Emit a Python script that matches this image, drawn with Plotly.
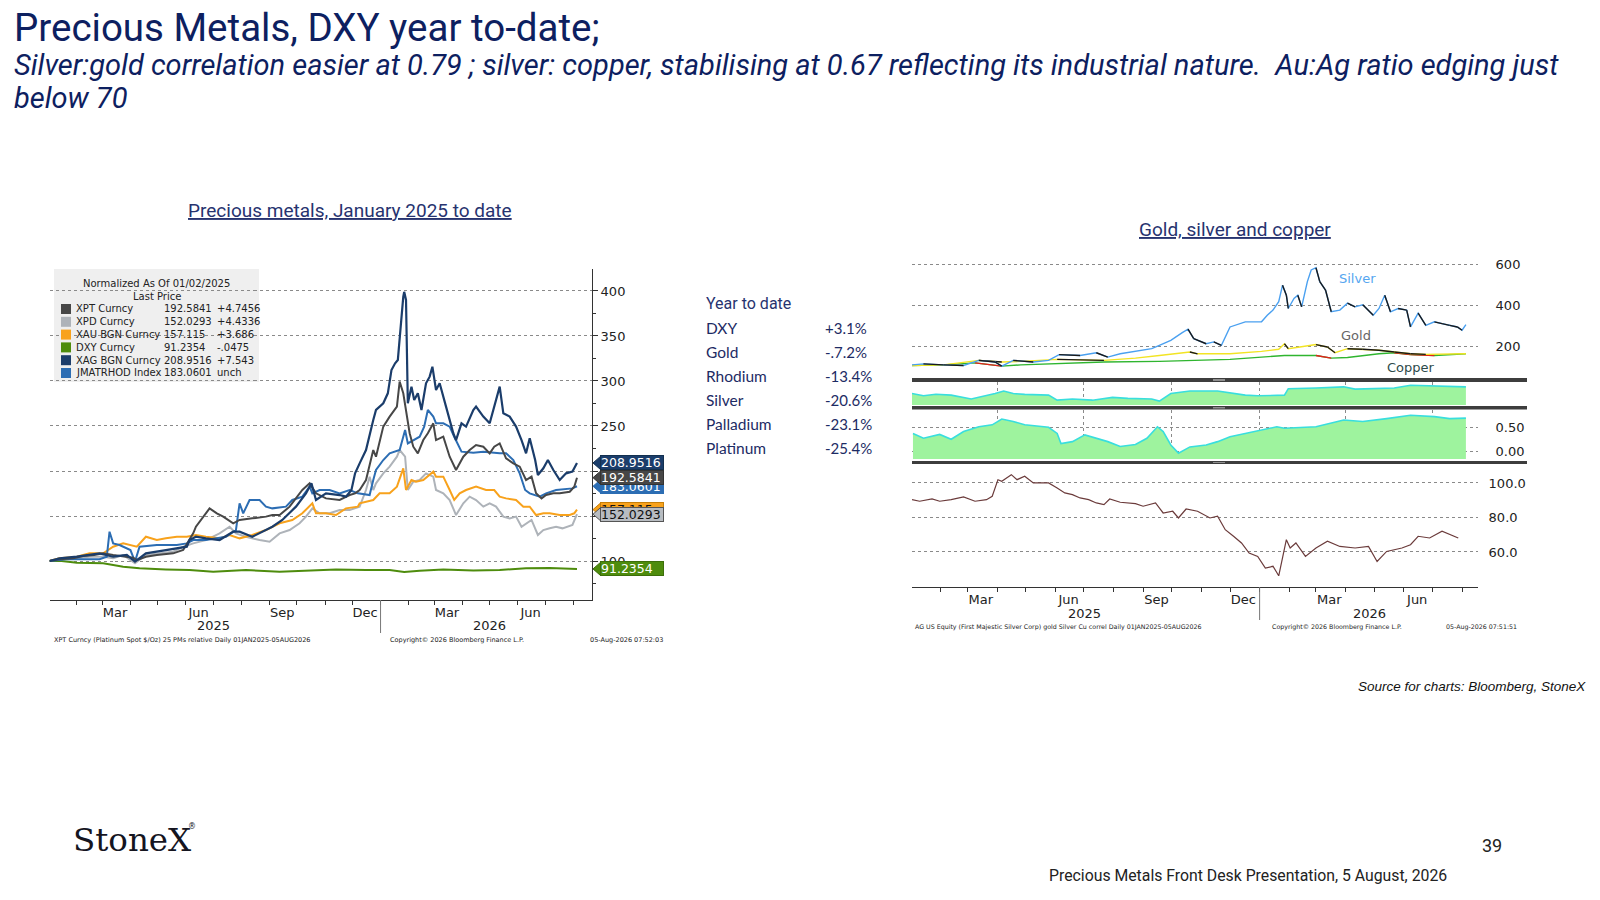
import plotly.graph_objects as go

W, H = 1600, 900

# ------------------------------------------------------------------ data: left chart (normalised, 02-Jan-2025 = 100)
XPT = [("2025-01-02",100),("2025-01-13",101.9),("2025-01-28",103),("2025-02-08",105.6),("2025-02-20",106.7),
       ("2025-03-02",108.5),("2025-03-13",106.7),("2025-03-24",105.6),("2025-04-04",103.7),("2025-04-08",101.1),
       ("2025-04-18",104.8),("2025-04-30",106.7),("2025-05-18",108.5),("2025-05-29",112.2),("2025-06-05",123.3),
       ("2025-06-09",130.7),("2025-06-12",138.1),("2025-06-23",153),("2025-06-27",158.5),("2025-07-05",153),
       ("2025-07-12",149.3),("2025-07-23",141.9),("2025-07-30",145.6),("2025-08-13",147.4),("2025-08-28",149.3),
       ("2025-09-04",151.1),("2025-09-12",151.1),("2025-09-23",160.4),("2025-10-07",178.9),("2025-10-15",186.3),
       ("2025-10-22",175.2),("2025-11-02",169.6),("2025-11-17",167.8),("2025-11-28",173.3),("2025-12-04",175.2),
       ("2025-12-09",178.9),("2025-12-16",190),("2025-12-24",223.3),("2025-12-27",215.9),("2026-01-04",249.3),
       ("2026-01-11",260.4),("2026-01-19",271.5),("2026-01-22",299.3),("2026-01-26",286.3),("2026-01-29",267.8),
       ("2026-02-02",241.9),("2026-02-06",227),("2026-02-11",219.6),("2026-02-17",234.4),("2026-02-22",241.9),
       ("2026-02-28",253),("2026-03-03",234.4),("2026-03-11",238.1),("2026-03-18",215.9),("2026-03-25",201.1),
       ("2026-04-02",215.9),("2026-04-09",223.3),("2026-04-16",228.9),("2026-04-24",227),("2026-05-01",219.6),
       ("2026-05-06",227),("2026-05-12",230.7),("2026-05-19",214.1),("2026-05-27",208.5),("2026-06-03",204.8),
       ("2026-06-10",190),("2026-06-16",193.7),("2026-06-21",175.2),("2026-06-27",169.6),("2026-07-02",173.3),
       ("2026-07-10",175.2),("2026-07-17",175.2),("2026-07-28",177),("2026-08-02",182.6),("2026-08-05",192.5841)]

XAG = [("2025-01-02",100),("2025-01-13",103),("2025-02-01",104.8),("2025-02-26",108.5),("2025-03-13",104.8),
       ("2025-03-28",106.7),("2025-04-06",99.3),("2025-04-18",108.5),("2025-05-10",112.2),("2025-06-02",115.9),
       ("2025-06-05",123.3),("2025-06-12",127),("2025-06-23",125.2),("2025-07-08",123.3),("2025-07-23",132.6),
       ("2025-07-30",132.6),("2025-08-13",127),("2025-08-28",134.4),("2025-09-04",138.1),("2025-09-15",145.6),
       ("2025-09-30",160.4),("2025-10-11",175.2),("2025-10-17",186.3),("2025-10-22",167.8),("2025-11-02",175.2),
       ("2025-11-17",173.3),("2025-11-24",171.5),("2025-11-30",178.9),("2025-12-04",197.4),("2025-12-09",208.5),
       ("2025-12-16",223.3),("2025-12-24",256.7),("2025-12-27",267.8),("2026-01-04",275.2),("2026-01-09",286.3),
       ("2026-01-13",312.2),("2026-01-17",319.6),("2026-01-20",323.3),("2026-01-22",349.3),("2026-01-26",393.7),
       ("2026-01-27",399),("2026-01-29",390),("2026-01-31",275.2),("2026-02-04",293.7),("2026-02-07",278.9),
       ("2026-02-11",286.3),("2026-02-15",267.8),("2026-02-20",297.4),("2026-02-24",304.8),("2026-02-27",315.9),
       ("2026-03-03",290),("2026-03-07",297.4),("2026-03-14",271.5),("2026-03-22",241.9),("2026-03-25",234.4),
       ("2026-03-31",253),("2026-04-05",249.3),("2026-04-13",267.8),("2026-04-16",271.5),("2026-04-24",260.4),
       ("2026-05-01",253),("2026-05-06",271.5),("2026-05-12",293.7),("2026-05-16",264.1),("2026-05-23",260.4),
       ("2026-05-30",249.3),("2026-06-05",234.4),("2026-06-10",219.6),("2026-06-14",236.3),("2026-06-20",212.2),
       ("2026-06-23",195.6),("2026-06-29",203),("2026-07-04",212.2),("2026-07-10",201.1),("2026-07-17",190),
       ("2026-07-24",197.4),("2026-07-31",199.3),("2026-08-05",208.9516)]

RHOD = [("2025-01-02",100),("2025-01-20",101.9),("2025-02-26",101.9),("2025-03-06",104.8),("2025-03-09",132.6),
        ("2025-03-13",119.6),("2025-03-20",117.8),("2025-04-01",112.2),("2025-04-06",99.3),("2025-04-11",115.9),
        ("2025-04-30",117.8),("2025-05-22",117.8),("2025-06-02",119.6),("2025-06-09",123.3),("2025-06-23",123.3),
        ("2025-07-15",127),("2025-07-26",134.4),("2025-07-30",164.1),("2025-08-03",153),("2025-08-10",167.8),
        ("2025-08-21",167.8),("2025-08-28",160.4),("2025-09-04",158.5),("2025-09-19",160.4),("2025-09-26",167.8),
        ("2025-10-07",171.5),("2025-10-15",182.6),("2025-10-18",175.2),("2025-10-26",178.9),("2025-11-06",178.9),
        ("2025-11-17",175.2),("2025-11-28",178.9),("2025-12-07",175.2),("2025-12-20",173.3),("2025-12-24",190),
        ("2025-12-27",201.1),("2026-01-04",212.2),("2026-01-11",219.6),("2026-01-22",223.3),("2026-01-28",245.6),
        ("2026-01-31",230.7),("2026-02-06",234.4),("2026-02-13",238.1),("2026-02-18",249.3),("2026-02-22",267.8),
        ("2026-02-28",260.4),("2026-03-03",253),("2026-03-11",253),("2026-03-18",249.3),("2026-03-23",238.1),
        ("2026-03-31",221.5),("2026-04-13",220.4),("2026-04-24",221.5),("2026-05-12",219.6),("2026-05-19",219.6),
        ("2026-05-27",212.2),("2026-06-03",197.4),("2026-06-09",178.9),("2026-06-14",175.2),("2026-06-25",171.5),
        ("2026-07-02",175.2),("2026-07-13",178.9),("2026-07-24",179.6),("2026-07-31",180.7),("2026-08-05",183.0601)]

XAU = [("2025-01-02",100),("2025-01-13",103),("2025-02-01",104.8),("2025-02-15",108.5),("2025-03-02",108.5),
       ("2025-03-13",115.9),("2025-03-24",119.6),("2025-04-08",115.9),("2025-04-18",127),("2025-04-30",123.3),
       ("2025-05-10",125.2),("2025-05-22",127),("2025-06-02",127),("2025-06-12",128.9),("2025-06-23",127),
       ("2025-07-08",125.2),("2025-07-19",128.9),("2025-07-30",125.2),("2025-08-13",128.9),("2025-08-28",134.4),
       ("2025-09-12",141.9),("2025-09-26",145.6),("2025-10-07",153),("2025-10-18",164.1),("2025-10-22",153),
       ("2025-11-02",153),("2025-11-13",151.1),("2025-11-24",158.5),("2025-12-07",160.4),("2025-12-09",164.1),
       ("2025-12-24",167.8),("2025-12-31",175.2),("2026-01-11",175.2),("2026-01-19",182.6),("2026-01-26",203),
       ("2026-01-29",178.9),("2026-02-04",190),("2026-02-09",188.1),("2026-02-17",190),("2026-02-24",195.6),
       ("2026-02-28",199.3),("2026-03-03",193.7),("2026-03-11",193.7),("2026-03-18",178.9),("2026-03-23",167.8),
       ("2026-03-29",175.2),("2026-04-05",178.9),("2026-04-16",182.6),("2026-04-27",178.9),("2026-05-06",178.9),
       ("2026-05-12",171.5),("2026-05-19",169.6),("2026-05-30",167.8),("2026-06-07",160.4),("2026-06-14",160.4),
       ("2026-06-21",151.1),("2026-06-29",153),("2026-07-06",153),("2026-07-17",151.1),("2026-07-28",151.1),
       ("2026-08-02",153),("2026-08-05",157.115)]

XPD = [("2025-01-02",100),("2025-01-13",103),("2025-01-28",103),("2025-02-15",104.8),("2025-03-02",104.8),
       ("2025-03-13",103),("2025-03-24",106.7),("2025-04-06",97.4),("2025-04-18",106.7),("2025-05-03",108.5),
       ("2025-05-18",110.4),("2025-05-29",115.9),("2025-06-09",119.6),("2025-06-23",123.3),("2025-07-08",130.7),
       ("2025-07-19",138.1),("2025-07-26",130.7),("2025-08-06",127),("2025-08-21",123.3),("2025-09-01",121.5),
       ("2025-09-12",130.7),("2025-09-23",134.4),("2025-10-04",141.9),("2025-10-11",149.3),("2025-10-18",158.5),
       ("2025-10-26",153),("2025-11-06",153),("2025-11-17",156.7),("2025-11-28",156.7),("2025-12-09",160.4),
       ("2025-12-16",178.9),("2025-12-20",193.7),("2025-12-24",178.9),("2025-12-27",186.3),("2026-01-04",197.4),
       ("2026-01-11",204.8),("2026-01-19",215.9),("2026-01-22",223.3),("2026-01-28",215.9),("2026-01-31",178.9),
       ("2026-02-06",188.1),("2026-02-13",190),("2026-02-20",197.4),("2026-02-28",193.7),("2026-03-03",178.9),
       ("2026-03-11",175.2),("2026-03-18",167.8),("2026-03-25",151.1),("2026-04-02",164.1),("2026-04-09",171.5),
       ("2026-04-16",167.8),("2026-04-24",160.4),("2026-05-01",164.1),("2026-05-08",160.4),("2026-05-16",149.3),
       ("2026-05-23",147.4),("2026-05-30",149.3),("2026-06-05",138.1),("2026-06-10",141.9),("2026-06-16",145.6),
       ("2026-06-23",128.9),("2026-06-29",134.4),("2026-07-06",136.3),("2026-07-13",138.1),("2026-07-20",136.3),
       ("2026-07-31",140),("2026-08-05",152.0293)]

DXY = [("2025-01-02",100),("2025-01-13",100.4),("2025-02-01",98.1),("2025-03-02",97.4),("2025-03-24",93.7),
       ("2025-04-11",91.9),("2025-05-10",90.7),("2025-06-05",90),("2025-07-01",88.1),("2025-08-06",90),
       ("2025-09-12",88.1),("2025-10-11",89.3),("2025-11-13",90.7),("2025-12-16",90),("2026-01-11",90),
       ("2026-01-27",87.8),("2026-02-13",89.3),("2026-03-11",90.7),("2026-04-13",89.6),("2026-05-12",90),
       ("2026-06-10",91.9),("2026-07-06",92.2),("2026-07-28",91.5),("2026-08-05",91.2354)]

LEGEND_ROWS = [("XPT Curncy", "192.5841", "+4.7456"), ("XPD Curncy", "152.0293", "+4.4336"),
               ("XAU BGN Curncy", "157.115", "+3.686"), ("DXY Curncy", "91.2354", "-.0475"),
               ("XAG BGN Curncy", "208.9516", "+7.543"), ("JMATRHOD Index", "183.0601", "unch")]

LEFT_Y_TICKS = [100, 150, 200, 250, 300, 350, 400]

# ------------------------------------------------------------------ data: right chart
SILVER = [("2025-01-02",108),("2025-01-14",113),("2025-02-04",108),("2025-02-25",105),("2025-03-13",130),
          ("2025-03-30",122),("2025-04-06",102),("2025-04-18",130),("2025-05-09",122),("2025-05-25",130),
          ("2025-06-05",158),("2025-06-27",154),("2025-07-14",167),("2025-07-26",146),("2025-08-08",162),
          ("2025-08-24",174),("2025-09-10",187),("2025-09-18",203),("2025-09-30",228),("2025-10-12",265),
          ("2025-10-18",282),("2025-10-24",236),("2025-11-06",211),("2025-11-14",220),("2025-11-22",203),
          ("2025-12-01",293),("2025-12-17",318),("2026-01-03",318),("2026-01-09",350),("2026-01-15",375),
          ("2026-01-21",416),("2026-01-25",497),("2026-01-29",448),("2026-01-31",383),("2026-02-06",432),
          ("2026-02-10",448),("2026-02-14",391),("2026-02-20",514),("2026-02-24",571),("2026-03-01",582),
          ("2026-03-05",514),("2026-03-11",473),("2026-03-17",367),("2026-03-26",375),("2026-04-03",409),
          ("2026-04-11",391),("2026-04-19",401),("2026-04-30",350),("2026-05-06",383),("2026-05-12",448),
          ("2026-05-18",367),("2026-05-26",383),("2026-06-04",375),("2026-06-08",293),("2026-06-16",360),
          ("2026-06-24",301),("2026-07-03",318),("2026-07-11",309),("2026-07-19",301),("2026-07-27",293),
          ("2026-08-01",277),("2026-08-05",304)]

GOLD = [("2025-01-02",105),("2025-02-04",108),("2025-03-13",130),("2025-04-06",122),("2025-04-26",125),
        ("2025-06-03",135),("2025-07-22",130),("2025-08-24",141),("2025-09-18",154),("2025-10-12",167),
        ("2025-10-20",171),("2025-10-28",162),("2025-12-01",162),("2026-01-03",174),("2026-01-21",184),
        ("2026-01-27",211),("2026-01-31",187),("2026-02-12",195),("2026-03-01",207),("2026-03-13",195),
        ("2026-03-21",167),("2026-04-03",187),("2026-04-19",184),("2026-05-06",179),("2026-05-22",171),
        ("2026-06-08",162),("2026-06-24",159),("2026-07-19",159),("2026-08-05",162)]

COPPER = [("2025-01-02",105),("2025-02-04",108),("2025-03-09",118),("2025-04-06",102),("2025-04-26",108),
          ("2025-06-03",113),("2025-07-22",122),("2025-09-18",125),("2025-10-28",130),("2025-12-01",135),
          ("2026-01-03",146),("2026-01-27",154),("2026-03-01",154),("2026-03-17",141),("2026-04-03",144),
          ("2026-05-06",162),("2026-05-22",167),("2026-06-08",158),("2026-07-03",154),("2026-08-05",162)]

CORR_AG_AU = [("2025-01-02",0.50),("2025-01-14",0.40),("2025-01-27",0.47),("2025-02-12",0.43),("2025-03-05",0.26),
              ("2025-03-17",0.36),("2025-03-30",0.50),("2025-04-08",0.61),("2025-04-18",0.50),("2025-04-30",0.46),
              ("2025-05-25",0.43),("2025-06-03",0.21),("2025-06-19",0.26),("2025-07-10",0.21),("2025-07-31",0.33),
              ("2025-08-16",0.29),("2025-09-10",0.26),("2025-09-18",0.17),("2025-09-30",0.50),("2025-10-20",0.61),
              ("2025-11-18",0.61),("2025-12-17",0.43),("2025-12-30",0.40),("2026-01-27",0.43),("2026-01-31",0.71),
              ("2026-03-01",0.74),("2026-03-30",0.79),("2026-04-11",0.69),("2026-05-22",0.74),("2026-06-08",0.86),
              ("2026-07-19",0.83),("2026-08-05",0.79)]

CORR_AG_CU = [("2025-01-03",0.38),("2025-01-14",0.28),("2025-01-31",0.36),("2025-02-12",0.26),("2025-02-25",0.42),
              ("2025-03-13",0.52),("2025-03-27",0.56),("2025-04-06",0.68),("2025-04-18",0.63),("2025-04-30",0.56),
              ("2025-05-25",0.51),("2025-06-03",0.38),("2025-06-07",0.17),("2025-06-19",0.21),("2025-07-02",0.35),
              ("2025-07-14",0.28),("2025-07-26",0.21),("2025-08-08",0.11),("2025-08-24",0.15),("2025-09-05",0.28),
              ("2025-09-16",0.52),("2025-09-22",0.42),("2025-09-30",0.14),("2025-10-08",-0.03),("2025-10-20",0.10),
              ("2025-11-06",0.14),("2025-11-18",0.21),("2025-12-01",0.31),("2025-12-17",0.38),("2026-01-03",0.45),
              ("2026-01-19",0.52),("2026-01-27",0.49),("2026-03-01",0.52),("2026-03-30",0.66),("2026-04-19",0.63),
              ("2026-05-14",0.69),("2026-06-08",0.76),("2026-07-03",0.73),("2026-07-19",0.69),("2026-08-05",0.70)]

AU_AG_RATIO = [("2025-01-02",90.3),("2025-01-10",89.4),("2025-01-23",90.7),("2025-01-31",89.4),("2025-02-12",90.3),
               ("2025-02-25",91.9),("2025-03-09",89.4),("2025-03-21",90.3),("2025-03-27",92.3),("2025-04-02",101.9),
               ("2025-04-06",101),("2025-04-16",104.8),("2025-04-22",101.9),("2025-04-30",103.9),("2025-05-09",100),
               ("2025-05-25",100),("2025-06-03",97.1),("2025-06-11",94.2),("2025-06-19",93.2),("2025-06-27",91.3),
               ("2025-07-06",90.3),("2025-07-14",88.4),("2025-07-22",87.4),("2025-07-28",90.7),("2025-08-08",88.8),
               ("2025-08-24",88),("2025-09-01",86.5),("2025-09-14",88.4),("2025-09-22",82.6),("2025-10-02",83.6),
               ("2025-10-08",79.7),("2025-10-16",84.9),("2025-10-28",83.6),("2025-11-10",79.7),("2025-11-18",80.7),
               ("2025-11-26",72.9),("2025-12-05",69),("2025-12-13",65.2),("2025-12-21",59.4),("2025-12-30",57.4),
               ("2026-01-07",50.7),("2026-01-15",51.7),("2026-01-21",46.2),("2026-01-25",57.4),("2026-01-29",67.1),
               ("2026-02-02",62.3),("2026-02-08",65.2),("2026-02-18",57.4),("2026-03-01",62.3),("2026-03-13",66.2),
               ("2026-03-26",63.2),("2026-04-11",62.3),("2026-04-25",63.2),("2026-05-04",54.5),("2026-05-14",60.3),
               ("2026-05-30",62.3),("2026-06-08",64.2),("2026-06-16",69.1),("2026-06-28",68.1),("2026-07-11",72),
               ("2026-07-19",70),("2026-07-28",68.1)]

YTD_TABLE = [("DXY", "+3.1%"), ("Gold", "-.7.2%"), ("Rhodium", "-13.4%"), ("Silver", "-20.6%"),
             ("Palladium", "-23.1%"), ("Platinum", "-25.4%")]

MONTH_LABEL_DATES = ["2025-03-15", "2025-06-15", "2025-09-15", "2025-12-15", "2026-03-15", "2026-06-15"]
MONTH_LABELS = ["Mar", "Jun", "Sep", "Dec", "Mar", "Jun"]
MONTH_STARTS = ["2025-%02d-01" % m for m in range(2, 13)] + ["2026-%02d-01" % m for m in range(1, 9)]
QUARTER_STARTS = ["2025-04-01", "2025-07-01", "2025-10-01", "2026-01-01", "2026-04-01", "2026-07-01"]

# ------------------------------------------------------------------ styling helpers
BBG = "DejaVu Sans"
SANS = "Roboto"
NAVY = "#0d2060"
GRID = "#8a8a8a"


def px(x):
    return x / W


def py(y):
    return 1 - y / H


def xs(pairs):
    return [p[0] for p in pairs]


def ys(pairs):
    return [p[1] for p in pairs]


fig = go.Figure()


def line(pairs, color, width, xa, ya, dash=None, fill=None, fillcolor=None):
    fig.add_trace(go.Scatter(x=xs(pairs), y=ys(pairs), mode="lines",
                             line=dict(color=color, width=width, dash=dash),
                             fill=fill, fillcolor=fillcolor,
                             xaxis=xa, yaxis=ya, hoverinfo="skip", showlegend=False))


def two_tone(pairs, up_color, down_color, width, xa, ya):
    """Full line in the 'rising' colour, falling segments over-drawn in the 'falling' colour."""
    line(pairs, up_color, width, xa, ya)
    dx, dy = [], []
    for (d0, v0), (d1, v1) in zip(pairs[:-1], pairs[1:]):
        if v1 < v0:
            dx += [d0, d1, None]
            dy += [v0, v1, None]
    fig.add_trace(go.Scatter(x=dx, y=dy, mode="lines", line=dict(color=down_color, width=width),
                             xaxis=xa, yaxis=ya, hoverinfo="skip", showlegend=False, connectgaps=False))


# ------------------------------------------------------------------ left chart traces
LEFT_SERIES = [
    (DXY, "#4e8c0d", 2.0),
    (XPD, "#aeb3b9", 2.0),
    (XAU, "#f8a21c", 2.0),
    (RHOD, "#2c6db3", 2.0),
    (XPT, "#474747", 2.0),
    (XAG, "#1b3d6b", 2.2),
]
for data, col, w in LEFT_SERIES:
    line(data, col, w, "x", "y")

# ------------------------------------------------------------------ right chart traces
two_tone(COPPER, "#2fb52f", "#e3221c", 1.4, "x2", "y2")
two_tone(GOLD, "#f2e424", "#1a1a1a", 1.4, "x2", "y2")
two_tone(SILVER, "#4aa0f0", "#1a1a1a", 1.4, "x2", "y2")

# panel 1: silver / gold correlation
line(CORR_AG_AU, "#39dede", 1.6, "x3", "y3", fill="tozeroy", fillcolor="#9ef39e")

# panel 2: silver / copper correlation
Y4_RANGE = [-0.152, 0.869]
fig.add_trace(go.Scatter(x=xs(CORR_AG_CU), y=[Y4_RANGE[0]] * len(CORR_AG_CU), mode="lines",
                         line=dict(width=0, color="rgba(0,0,0,0)"), xaxis="x4", yaxis="y4",
                         hoverinfo="skip", showlegend=False))
line(CORR_AG_CU, "#39dede", 1.6, "x4", "y4", fill="tonexty", fillcolor="#9ef39e")

# bottom panel: gold/silver ratio
line(AU_AG_RATIO, "#6b3b3b", 1.2, "x5", "y5")

# ------------------------------------------------------------------ axes
TICKFONT = dict(family=BBG, size=13, color="#222")
L_RANGE = ["2025-01-02", "2026-08-21 12:00"]
R_RANGE = ["2025-01-02", "2026-08-17 16:00"]
R_DOM = [px(912), px(1478)]


def month_axis(domain, rng, anchor):
    return dict(domain=domain, range=rng, type="date", anchor=anchor, showgrid=False, zeroline=False,
                showline=True, linecolor="#333", linewidth=1, tickmode="array",
                tickvals=MONTH_LABEL_DATES, ticktext=MONTH_LABELS, ticks="", tickfont=TICKFONT,
                minor=dict(tickmode="array", tickvals=MONTH_STARTS, ticks="outside", ticklen=4,
                           tickcolor="#333", tickwidth=1, showgrid=False),
                fixedrange=True)


def hidden_x(anchor, grid=False):
    d = dict(domain=R_DOM, range=R_RANGE, type="date", anchor=anchor, showline=False, zeroline=False,
             showticklabels=False, ticks="", fixedrange=True, showgrid=grid)
    if grid:
        d.update(tickmode="array", tickvals=QUARTER_STARTS, gridcolor=GRID, griddash="dot", gridwidth=1)
    return d


layout_axes = dict(
    xaxis=month_axis([px(49.5), px(592)], L_RANGE, "y"),
    yaxis=dict(domain=[py(600), py(269)], range=[56.7, 424.4], side="right", anchor="x",
               showline=True, linecolor="#333", linewidth=1, ticks="outside", ticklen=5, tickcolor="#333",
               tickmode="array", tickvals=LEFT_Y_TICKS, tickfont=TICKFONT,
               showgrid=True, gridcolor=GRID, griddash="dot", gridwidth=1, zeroline=False,
               minor=dict(tickmode="linear", tick0=0, dtick=25, ticks="outside", ticklen=3,
                          tickcolor="#333", showgrid=False),
               fixedrange=True),
    xaxis2=hidden_x("y2"),
    yaxis2=dict(domain=[py(378), py(255)], range=[44, 644], side="right", anchor="x2",
                tickmode="array", tickvals=[200, 400, 600], tickfont=TICKFONT,
                ticks="outside", ticklen=14, tickcolor="rgba(0,0,0,0)",
                showgrid=True, gridcolor=GRID, griddash="dot", zeroline=False, showline=False,
                fixedrange=True),
    xaxis3=hidden_x("y3", grid=True),
    yaxis3=dict(domain=[py(405), py(382)], range=[0, 1], anchor="x3", showticklabels=False,
                showgrid=False, zeroline=False, ticks="", fixedrange=True),
    xaxis4=hidden_x("y4", grid=True),
    yaxis4=dict(domain=[py(459), py(410)], range=Y4_RANGE, side="right", anchor="x4",
                tickmode="array", tickvals=[0, 0.5], ticktext=["0.00", "0.50"], tickfont=TICKFONT,
                ticks="outside", ticklen=14, tickcolor="rgba(0,0,0,0)",
                showgrid=True, gridcolor=GRID, griddash="dot", zeroline=False, fixedrange=True),
    xaxis5=month_axis(R_DOM, R_RANGE, "y5"),
    yaxis5=dict(domain=[py(587), py(465)], range=[39.7, 110.4], side="right", anchor="x5",
                tickmode="array", tickvals=[60, 80, 100], ticktext=["60.0", "80.0", "100.0"],
                tickfont=TICKFONT, ticks="outside", ticklen=7, tickcolor="rgba(0,0,0,0)",
                showgrid=True, gridcolor=GRID, griddash="dot", zeroline=False, fixedrange=True),
)

shapes = []
ann = []


def text(x, y, s, size, color="#222", family=SANS, xanchor="left", yanchor="middle", italic=False, **kw):
    font = dict(family=family, size=size, color=color)
    if italic:
        font["style"] = "italic"
    d = dict(x=px(x), y=py(y), xref="paper", yref="paper", text=s, showarrow=False,
             xanchor=xanchor, yanchor=yanchor, font=font, align="left")
    d.update(kw)
    ann.append(d)


# ------------------------------------------------------------------ page texts
text(12, 28, "Precious Metals, DXY year to-date;", 38.5, NAVY)
text(12, 65, "Silver:gold correlation easier at 0.79 ; silver: copper, stabilising at 0.67 reflecting its "
             "industrial nature.  Au:Ag ratio edging just", 29, NAVY, italic=True)
text(12, 98, "below 70", 29, NAVY, italic=True)
text(350, 210, "<u>Precious metals, January 2025 to date</u>", 19, "#27336f", xanchor="center")
text(1235, 229, "<u>Gold, silver and copper</u>", 19, "#27336f", xanchor="center")

text(704, 303, "Year to date", 16, "#27336f")
for i, (lab, val) in enumerate(YTD_TABLE):
    yy = 328 + i * 24
    text(704, yy, lab, 15.5, "#1d2b64", family="Lato")
    text(823, yy, val, 15, "#1d2b64", family="Lato")

text(1588, 686, "Source for charts: Bloomberg, StoneX", 13.5, "#111", family="Liberation Sans",
     xanchor="right", italic=True)
text(1492, 845, "39", 18, "#222", xanchor="center")
text(1449, 875, "Precious Metals Front Desk Presentation, 5 August, 2026", 15.8, "#222", xanchor="right")
text(71, 840, "StoneX", 32.5, "#15151f", family="DejaVu Serif")
text(186, 826, "®", 8, "#15151f", family="DejaVu Sans")

# ------------------------------------------------------------------ left chart decorations
shapes.append(dict(type="rect", xref="paper", yref="paper", x0=px(54), x1=px(259), y0=py(382), y1=py(269),
                   fillcolor="#efefef", line=dict(width=0), layer="below"))
text(156, 283, "Normalized As Of 01/02/2025", 10, "#222", family=BBG, xanchor="center")
text(157, 296, "Last Price", 10, "#222", family=BBG, xanchor="center")
LEGEND_COLORS = ["#474747", "#aeb3b9", "#f8a21c", "#4e8c0d", "#1b3d6b", "#2c6db3"]
for i, ((nm, lp, ch), col) in enumerate(zip(LEGEND_ROWS, LEGEND_COLORS)):
    yy = 309 + i * 12.8
    shapes.append(dict(type="rect", xref="paper", yref="paper", x0=px(61), x1=px(71),
                       y0=py(yy + 5), y1=py(yy - 5), fillcolor=col, line=dict(width=0)))
    text(74, yy, nm, 10, "#222", family=BBG)
    text(162, yy, lp, 10, "#222", family=BBG)
    text(215, yy, ch, 10, "#222", family=BBG)

# year labels + separator
ann.append(dict(x="2025-07-01", y=py(625), xref="x", yref="paper", text="2025", showarrow=False,
                font=TICKFONT, xanchor="center", yanchor="middle"))
ann.append(dict(x="2026-05-01", y=py(625), xref="x", yref="paper", text="2026", showarrow=False,
                font=TICKFONT, xanchor="center", yanchor="middle"))
shapes.append(dict(type="line", xref="x", yref="paper", x0="2026-01-01", x1="2026-01-01",
                   y0=py(600), y1=py(633), line=dict(color="#777", width=1)))

text(52, 640, "XPT Curncy (Platinum Spot $/Oz) 25 PMs relative Daily 01JAN2025-05AUG2026", 6.5, "#222", family=BBG)
text(388, 640, "Copyright© 2026 Bloomberg Finance L.P.", 6.5, "#222", family=BBG)
text(588, 640, "05-Aug-2026 07:52:03", 6.5, "#222", family=BBG)

# last-price tags
TAGS = [
    (RHOD, "183.0601", "#2c6db3", "white", "#2c6db3"),
    (XAU, "157.115", "#f8a21c", "#111", "#c77f0a"),
    (XPD, "152.0293", "#b8bcc1", "#111", "#555555"),
    (XPT, "192.5841", "#474747", "white", "#333333"),
    (XAG, "208.9516", "#1b3d6b", "white", "#13304f"),
    (DXY, "91.2354", "#4e8c0d", "white", "#3d6f0a"),
]
for data, lab, bg, fg, bc in TAGS:
    last = data[-1][1]
    shapes.append(dict(type="path", xref="paper", yref="y", xsizemode="pixel", ysizemode="pixel",
                       xanchor=px(593), yanchor=last, path="M 0,0 L 8,7 L 8,-7 Z",
                       fillcolor=bg, line=dict(color=bc, width=1), layer="above"))
    ann.append(dict(x=px(600), xref="paper", xanchor="left", y=last, yref="y", yanchor="middle",
                    text=lab, showarrow=False, font=dict(family=BBG, size=12.5, color=fg),
                    bgcolor=bg, bordercolor=bc, borderwidth=1, borderpad=0, width=62, height=13,
                    align="left"))

# ------------------------------------------------------------------ right chart decorations
for y0, y1 in [(378, 382), (406, 409.5), (461, 464)]:
    shapes.append(dict(type="rect", xref="paper", yref="paper", x0=px(912), x1=px(1527),
                       y0=py(y1), y1=py(y0), fillcolor="#3d3d3d", line=dict(width=0), layer="above"))
    shapes.append(dict(type="rect", xref="paper", yref="paper", x0=px(1213), x1=px(1225),
                       y0=py(y1 - 1), y1=py(y0 + 1), fillcolor="#8f8f8f", line=dict(width=0), layer="above"))

ann.append(dict(x="2026-04-13", y=527, xref="x2", yref="y2", text="Silver", showarrow=False,
                font=dict(family=BBG, size=13, color="#55a6f0")))
ann.append(dict(x="2026-04-12", y=249, xref="x2", yref="y2", text="Gold", showarrow=False,
                font=dict(family=BBG, size=13, color="#666666")))
ann.append(dict(x="2026-06-08", y=97, xref="x2", yref="y2", text="Copper", showarrow=False,
                font=dict(family=BBG, size=13, color="#2d4a4a")))

ann.append(dict(x="2025-07-02", y=py(613), xref="x5", yref="paper", text="2025", showarrow=False,
                font=TICKFONT, xanchor="center", yanchor="middle"))
ann.append(dict(x="2026-04-26", y=py(613), xref="x5", yref="paper", text="2026", showarrow=False,
                font=TICKFONT, xanchor="center", yanchor="middle"))
shapes.append(dict(type="line", xref="x5", yref="paper", x0="2026-01-01", x1="2026-01-01",
                   y0=py(587), y1=py(620), line=dict(color="#777", width=1)))

text(913, 627, "AG US Equity (First Majestic Silver Corp) gold Silver Cu correl Daily 01JAN2025-05AUG2026",
     6.3, "#222", family=BBG)
text(1270, 627, "Copyright© 2026 Bloomberg Finance L.P.", 6.3, "#222", family=BBG)
text(1444, 627, "05-Aug-2026 07:51:51", 6.3, "#222", family=BBG)

fig.update_layout(
    width=W, height=H, autosize=False,
    margin=dict(l=0, r=0, t=0, b=0),
    paper_bgcolor="white", plot_bgcolor="rgba(0,0,0,0)",
    showlegend=False, shapes=shapes, annotations=ann,
    **layout_axes,
)

fig.write_html("out.html", config={"displayModeBar": False, "staticPlot": True},
               post_script="document.body.style.margin='0px';document.body.style.padding='0px';")
